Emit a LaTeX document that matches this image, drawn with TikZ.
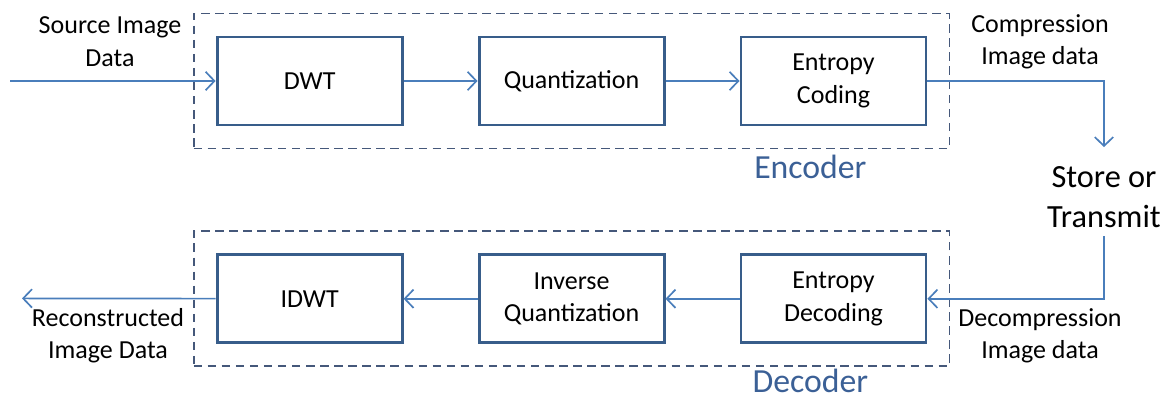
\documentclass[tikz,border=0pt]{standalone}
\usepackage{fontspec}
\setmainfont{Carlito}
\usepackage{tikz}
\usetikzlibrary{arrows, arrows.meta, positioning, fit}
\definecolor{boxblue}{HTML}{385D8A}
\definecolor{lineblue}{HTML}{4A7EBB}
\definecolor{groupblue}{HTML}{45587A}
\definecolor{labelblue}{HTML}{3B6096}
\tikzstyle{block} = [rectangle, draw=boxblue, line width=2.1pt, minimum width=4.625cm,
     minimum height=2.2cm, align=center, font=\fontsize{18.5}{23}\selectfont]
\tikzstyle{arrow} = [line width=1.2pt, lineblue, -{Straight Barb[length=2.2mm, width=4.6mm]}]
\tikzstyle{group} = [rectangle, draw=groupblue, line width=1.3pt, dash pattern=on 6pt off 4pt, inner sep=0.55cm]
\tikzstyle{grouplabel} = [text=labelblue, inner sep=0pt, font=\fontsize{24}{28}\selectfont]
\tikzstyle{datalabel} = [align=center, font=\fontsize{18.5}{23}\selectfont]

\begin{document}
\begin{tikzpicture}
     \useasboundingbox (0,0) rectangle (29.2,-9.85);
     % Encoder row
     \node [block] (dwt) at (7.74,-2.025) {DWT};
     \node [block, right=1.85cm of dwt] (quant) {Quantization};
     \node [block, right=1.85cm of quant] (entc) {Entropy\\Coding};
     % Decoder row
     \node [block, below=3.17cm of dwt] (idwt) {IDWT};
     \node [block, below=3.17cm of quant] (iquant) {Inverse\\Quantization};
     \node [block, below=3.17cm of entc] (entd) {Entropy\\Decoding};
     % Groups
     \node [group, fit=(dwt)(entc)] (enc) {};
     \node [group, fit=(idwt)(entd)] (dec) {};
     \node [grouplabel] (enclab) at ([xshift=-3.5cm, yshift=-0.45cm]enc.south east) {Encoder};
     \node [grouplabel] (declab) at ([xshift=-3.5cm, yshift=-0.34cm]dec.south east) {Decoder};
     % Labels
     \node [datalabel] (src) at (2.75,-1.04) {Source Image\\Data};
     \node [datalabel] (comp) at (26.0,-1.04) {Compression\\Image data};
     \node [font=\fontsize{23}{28.5}\selectfont, align=center, inner sep=0.2cm] (store) at (27.6,-4.93) {Store or\\Transmit};
     \node [datalabel] (decomp) at (26.0,-8.39) {Decompression\\Image data};
     \node [datalabel] (rec) at (2.7,-8.39) {Reconstructed\\Image Data};
     \coordinate (in) at (0.25,-2.025);
     \coordinate (out) at (0.55,-7.46);
     % Arrows
     \draw [arrow] (in) -- (dwt);
     \draw [arrow] (dwt) -- (quant);
     \draw [arrow] (quant) -- (entc);
     \draw [arrow] (entc.east) -| ([yshift=0.28cm]store.north);
     \draw [arrow] (store.south) |- (entd.east);
     \draw [arrow] (entd) -- (iquant);
     \draw [arrow] (iquant) -- (idwt);
     \draw [arrow] (idwt) -- (out);
\end{tikzpicture}
\end{document}
